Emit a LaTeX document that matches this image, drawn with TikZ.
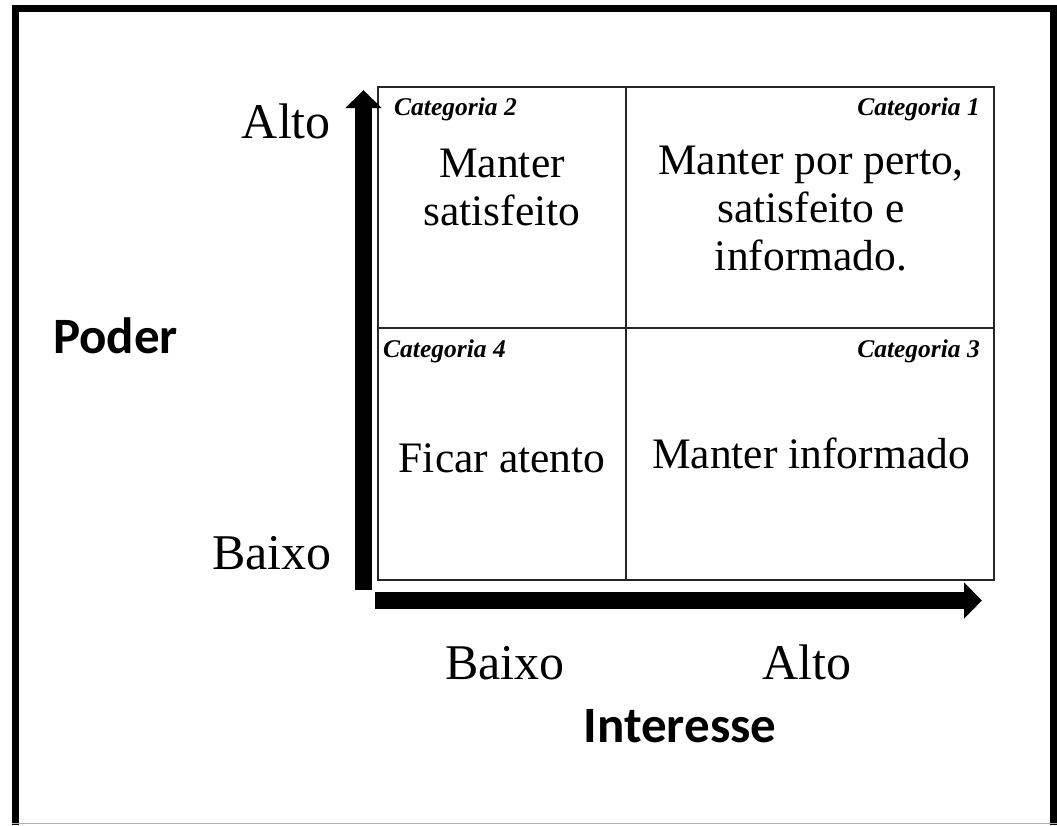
\documentclass[tikz,border=0pt]{standalone}
\usepackage{fontspec}
\setmainfont{Liberation Serif}
\newfontfamily\calib{Carlito}
\usetikzlibrary{arrows.meta}
\tikzset{
  lbl/.style={inner sep=0pt, font=\fontsize{50}{56}\selectfont},
  axlbl/.style={inner sep=0pt, font=\calib\bfseries\fontsize{51}{56}\selectfont},
  cat/.style={inner sep=0pt, font=\bfseries\itshape\fontsize{25.5}{28}\selectfont},
  cell/.style={inner sep=0pt, align=center, font=\fontsize{43.5}{48}\selectfont},
  grid/.style={line width=1.3pt, draw=black!85},
  axis/.style={line width=17pt, -{Triangle[length=18pt,width=35pt]}},
  frame/.style={line width=7pt, black}
}
\begin{document}
\begin{tikzpicture}[x=1pt,y=-1pt]
\useasboundingbox (0,0) rectangle (1057,825);
\fill[white] (0,0) rectangle (1057,825);
% frame
\draw[frame] (15.5,825) -- (15.5,8.5) -- (1053.5,8.5) -- (1053.5,825);
\draw[black!30, line width=1pt] (12,823.5) -- (1057,823.5);
% grid
\draw[grid] (378,87) rectangle (994,580);
\draw[grid] (626,87) -- (626,580);
\draw[grid] (378,328) -- (994,328);
% axes
\coordinate (vs) at (363.5,590);
\coordinate (ve) at (363.5,90);
\coordinate (hs) at (375,600.5);
\coordinate (he) at (982,600.5);
\draw[axis] (vs) -- (ve);
\draw[axis] (hs) -- (he);
% axis labels
\node[lbl, anchor=base east] (altoY) at (331,138) {Alto};
\node[lbl, anchor=base east] (baixoY) at (332,569) {Baixo};
\node[axlbl, anchor=base west] (poder) at (53,353) {Poder};
\node[lbl, anchor=base] (baixoX) at (505,679) {Baixo};
\node[lbl, anchor=base] (altoX) at (807,679) {Alto};
\node[axlbl, anchor=base] (interesse) at (680,742) {Interesse};
% categories
\node[cat, anchor=base west] (c2) at (394,115) {Categoria 2};
\node[cat, anchor=base east] (c1) at (980,115) {Categoria 1};
\node[cat, anchor=base west] (c4) at (383,357) {Categoria 4};
\node[cat, anchor=base east] (c3) at (980,357) {Categoria 3};
% cell texts (base anchor = last line baseline)
\node[cell, anchor=base] (t2) at (502,225) {Manter\\satisfeito};
\node[cell, anchor=base] (t1) at (811,270) {Manter por perto,\\satisfeito e\\informado.};
\node[cell, anchor=base] (t4) at (502,472) {Ficar atento};
\node[cell, anchor=base] (t3) at (811,468) {Manter informado};
\end{tikzpicture}
\end{document}
